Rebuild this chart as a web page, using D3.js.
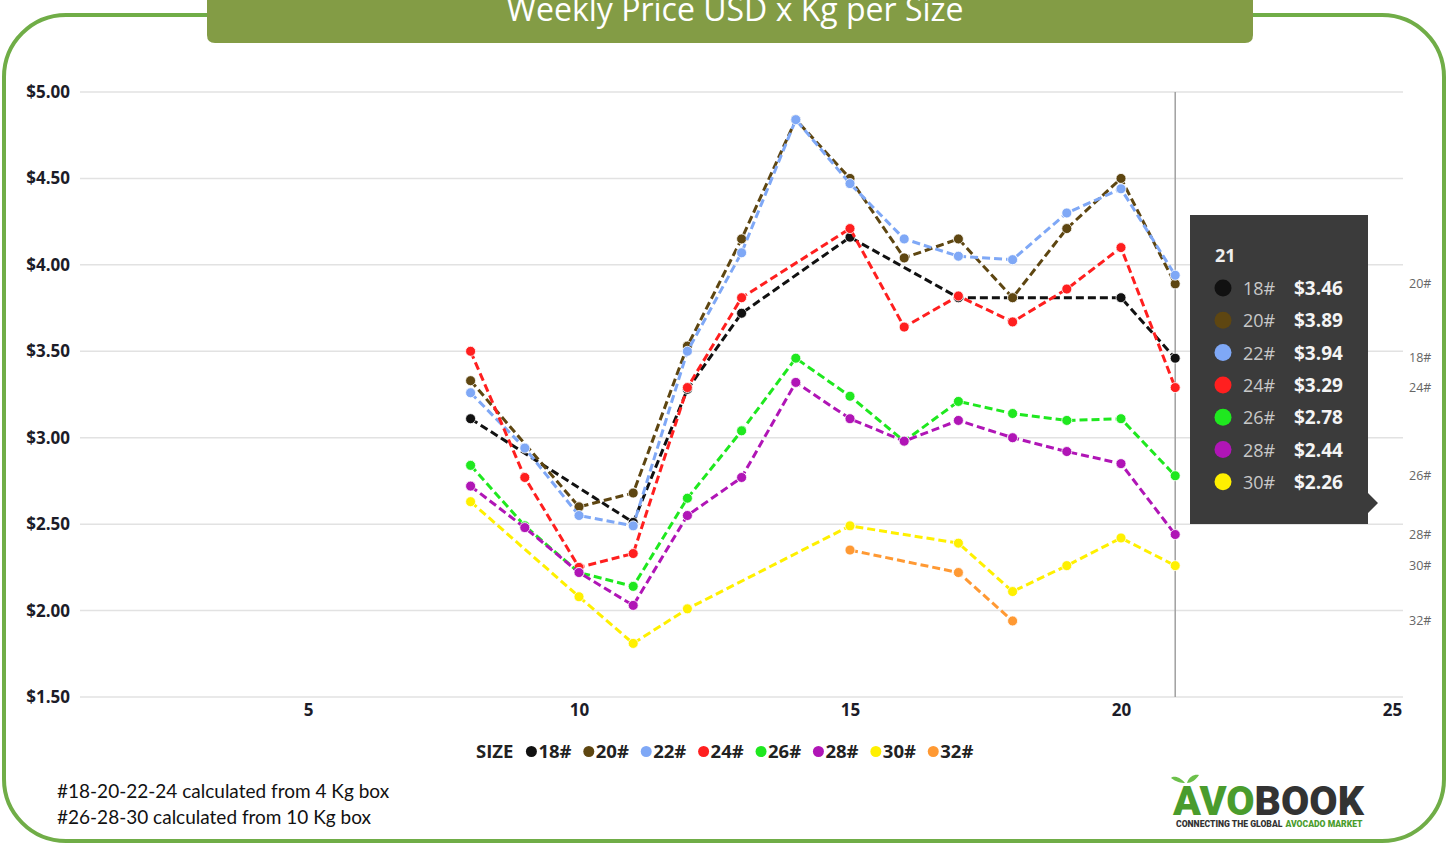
<html>
<head>
    <style>
        body { margin: 0; background: #fff; }
        svg { display: block; font-family: "Open Sans", sans-serif; }
    </style>
    <script src="https://d3js.org/d3.v7.min.js"></script>
</head>
<body>
<svg id="chart"></svg>
<script>
    // data, weeks 8..21
    var weeks = [8, 9, 10, 11, 12, 13, 14, 15, 16, 17, 18, 19, 20, 21];
    var sizes = ["18#", "20#", "22#", "24#", "26#", "28#", "30#", "32#"];
    var colors = ["#111111", "#5e4611", "#7fa8f6", "#ff1f1f", "#1fe81f", "#b015b6", "#fff000", "#ff9933"];
    var s18 = [3.11, null, null, 2.51, 3.28, 3.72, null, 4.16, null, 3.81, 3.81, null, 3.81, 3.46];
    var s20 = [3.33, null, 2.60, 2.68, 3.53, 4.15, 4.84, 4.50, 4.04, 4.15, 3.81, 4.21, 4.50, 3.89];
    var s22 = [3.26, 2.94, 2.55, 2.49, 3.50, 4.07, 4.84, 4.47, 4.15, 4.05, 4.03, 4.30, 4.44, 3.94];
    var s24 = [3.50, 2.77, 2.25, 2.33, 3.29, 3.81, null, 4.21, 3.64, 3.82, 3.67, 3.86, 4.10, 3.29];
    var s26 = [2.84, 2.49, 2.22, 2.14, 2.65, 3.04, 3.46, 3.24, 2.98, 3.21, 3.14, 3.10, 3.11, 2.78];
    var s28 = [2.72, 2.48, 2.22, 2.03, 2.55, 2.77, 3.32, 3.11, 2.98, 3.10, 3.00, 2.92, 2.85, 2.44];
    var s30 = [2.63, null, 2.08, 1.81, 2.01, null, null, 2.49, null, 2.39, 2.11, 2.26, 2.42, 2.26];
    var s32 = [null, null, null, null, null, null, null, 2.35, null, 2.22, 1.94, null, null, null];
    var seriesValues = [s18, s20, s22, s24, s26, s28, s30, s32];
    var yTicks = [1.5, 2, 2.5, 3, 3.5, 4, 4.5, 5];
    var xTicks = [5, 10, 15, 20, 25];
    var tooltipWeek = 21;
    var endLabelSkip = ["22#"];
    var notes = ["#18-20-22-24 calculated from 4 Kg box", "#26-28-30 calculated from 10 Kg box"];

    var W = 1450, H = 846;
    var svg = d3.select("#chart").attr("width", W).attr("height", H);

    var series = sizes.map(function (s, i) {
        return {
            name: s, color: colors[i],
            points: weeks.map(function (w, j) { return { w: w, v: seriesValues[i][j] }; })
                .filter(function (p) { return p.v != null; })
        };
    });

    var x = d3.scaleLinear().domain([0, 25]).range([37, 1392]);
    var y = d3.scaleLinear().domain([1.5, 5]).range([697, 92]);

    // frame
    svg.append("rect")
        .attr("x", 4).attr("y", 15).attr("width", 1440).attr("height", 826)
        .attr("rx", 62).attr("ry", 62)
        .attr("fill", "none").attr("stroke", "#70ad47").attr("stroke-width", 4);

    // title banner
    svg.append("path")
        .attr("d", "M207,-10 L1253,-10 L1253,35 Q1253,43 1245,43 L215,43 Q207,43 207,35 Z")
        .attr("fill", "#839c45");
    svg.append("text")
        .attr("x", 735).attr("y", 21)
        .attr("text-anchor", "middle")
        .attr("fill", "#fff").attr("font-size", 32)
        .text("Weekly Price USD x Kg per Size");

    // grid
    var g = svg.append("g");
    g.selectAll(".grid").data(yTicks).enter().append("line")
        .attr("x1", 80).attr("x2", 1403)
        .attr("y1", function (d) { return y(d); }).attr("y2", function (d) { return y(d); })
        .attr("stroke", "#e2e2e2").attr("stroke-width", 1.5);

    var yAxis = g.append("g").attr("transform", "translate(70,0)")
        .call(d3.axisLeft(y).tickValues(yTicks).tickSize(0).tickPadding(0)
            .tickFormat(function (d) { return "$" + d.toFixed(2); }));
    yAxis.select(".domain").remove();
    yAxis.selectAll("text").attr("font-size", 17).attr("font-weight", 700)
        .attr("fill", "#1c1c28").attr("font-family", "Open Sans");

    var xAxis = g.append("g").attr("transform", "translate(0,704)")
        .call(d3.axisBottom(x).tickValues(xTicks).tickSize(0).tickPadding(0));
    xAxis.select(".domain").remove();
    xAxis.selectAll("text").attr("font-size", 17).attr("font-weight", 700)
        .attr("fill", "#1c1c28").attr("font-family", "Open Sans");

    // hover line
    g.append("line")
        .attr("x1", x(tooltipWeek)).attr("x2", x(tooltipWeek))
        .attr("y1", y(5)).attr("y2", y(1.5))
        .attr("stroke", "#a0a0a0").attr("stroke-width", 1.5);

    // lines
    var line = d3.line().x(function (d) { return x(d.w); }).y(function (d) { return y(d.v); });
    var sg = g.selectAll(".series").data(series).enter().append("g");
    sg.append("path")
        .attr("d", function (d) { return line(d.points); })
        .attr("fill", "none")
        .attr("stroke", function (d) { return d.color; })
        .attr("stroke-width", 3)
        .attr("stroke-dasharray", "8,4");
    sg.selectAll("circle").data(function (d) { return d.points.map(function (p) { return { p: p, c: d.color }; }); })
        .enter().append("circle")
        .attr("cx", function (d) { return x(d.p.w); })
        .attr("cy", function (d) { return y(d.p.v); })
        .attr("r", 5)
        .attr("fill", function (d) { return d.c; })
        .attr("stroke", "#fff").attr("stroke-width", 0.8);

    // end labels
    g.selectAll(".endlab").data(series.filter(function (s) { return endLabelSkip.indexOf(s.name) < 0; }))
        .enter().append("text")
        .attr("x", 1409)
        .attr("y", function (d) { return y(d.points[d.points.length - 1].v) + 4; })
        .attr("font-size", 12.5).attr("fill", "#666")
        .text(function (d) { return d.name; });

    // legend
    var leg = svg.append("g").attr("transform", "translate(476,758)");
    var lt0 = leg.append("text").attr("x", 0).attr("y", 0)
        .attr("font-size", 18.5).attr("font-weight", 700).attr("fill", "#222").text("SIZE");
    var lx = lt0.node().getComputedTextLength() + 18;
    series.forEach(function (s) {
        leg.append("circle").attr("cx", lx).attr("cy", -6.5).attr("r", 5.5).attr("fill", s.color);
        var t = leg.append("text").attr("x", lx + 7).attr("y", 0)
            .attr("font-size", 18.5).attr("font-weight", 700).attr("fill", "#222").text(s.name);
        lx += t.node().getComputedTextLength() + 24.3;
    });

    // tooltip
    var tt = svg.append("g").attr("transform", "translate(1190,215)");
    tt.append("path")
        .attr("d", "M0,0 L178,0 L178,278 L188,288 L178,298 L178,309 L0,309 Z")
        .attr("fill", "#3b3b3b");
    tt.append("text").attr("x", 25).attr("y", 47)
        .attr("font-size", 18).attr("font-weight", 700).attr("fill", "#eee").text(tooltipWeek);
    var ti = weeks.indexOf(tooltipWeek);
    var rows = series.filter(function (s, i) { return seriesValues[i][ti] != null; });
    rows.forEach(function (s, k) {
        var cy = 73 + k * 32.3;
        var v = seriesValues[sizes.indexOf(s.name)][ti];
        tt.append("circle").attr("cx", 33).attr("cy", cy).attr("r", 8.5).attr("fill", s.color);
        tt.append("text").attr("x", 53).attr("y", cy + 7)
            .attr("font-size", 18).attr("fill", "#c8c8c8").text(s.name);
        tt.append("text").attr("x", 104).attr("y", cy + 7)
            .attr("font-size", 19).attr("font-weight", 700).attr("fill", "#f4f4f4")
            .text("$" + v.toFixed(2));
    });

    // notes
    svg.selectAll(".note").data(notes).enter().append("text")
        .attr("x", 57).attr("y", function (d, i) { return 798 + i * 26; })
        .attr("font-family", "Lato").attr("font-size", 19).attr("fill", "#111")
        .text(function (d) { return d; });

    // logo
    var logo = svg.append("g").attr("transform", "translate(1173,815)");
    var a1 = logo.append("text").attr("x", 0).attr("y", 0)
        .attr("font-family", "Roboto").attr("font-weight", 900).attr("font-size", 41)
        .attr("fill", "#4a9c2d").text("AVO");
    var a1w = a1.node().getComputedTextLength();
    logo.append("text").attr("x", a1w).attr("y", 0)
        .attr("font-family", "Roboto").attr("font-weight", 900).attr("font-size", 41)
        .attr("fill", "#333").text("BOOK");
    logo.append("path")
        .attr("d", "M12,-32 C6,-39 0,-39 -2,-37 C3,-33 8,-32 12,-32 Z M14,-32 C16,-39 22,-41 26,-40 C23,-35 18,-32 14,-32 Z")
        .attr("fill", "#6cc04a");
    var b1 = logo.append("text").attr("x", 3).attr("y", 12)
        .attr("font-family", "Roboto").attr("font-weight", 900).attr("font-size", 8.6)
        .attr("fill", "#333").text("CONNECTING THE GLOBAL");
    logo.append("text").attr("x", 3 + b1.node().getComputedTextLength() + 3).attr("y", 12)
        .attr("font-family", "Roboto").attr("font-weight", 900).attr("font-size", 8.6)
        .attr("fill", "#4a9c2d").text("AVOCADO MARKET");
</script>
</body>
</html>
